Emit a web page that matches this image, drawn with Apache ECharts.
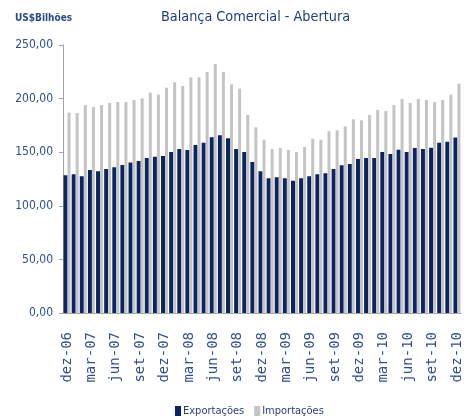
<!DOCTYPE html>
<html>
<head>
<meta charset="utf-8">
<script src="https://cdn.jsdelivr.net/npm/echarts@6/dist/echarts.min.js"></script>
<style>
  html, body { margin: 0; padding: 0; background: #fff; }
  #chart { width: 473px; height: 416px; }
</style>
</head>
<body>
<div id="chart"></div>
<script>
// meses (dez-06 .. dez-10)
var months = [
  'dez-06', 'jan-07', 'fev-07', 'mar-07', 'abr-07', 'mai-07', 'jun-07', 'jul-07', 'ago-07', 'set-07', 'out-07', 'nov-07',
  'dez-07', 'jan-08', 'fev-08', 'mar-08', 'abr-08', 'mai-08', 'jun-08', 'jul-08', 'ago-08', 'set-08', 'out-08', 'nov-08',
  'dez-08', 'jan-09', 'fev-09', 'mar-09', 'abr-09', 'mai-09', 'jun-09', 'jul-09', 'ago-09', 'set-09', 'out-09', 'nov-09',
  'dez-09', 'jan-10', 'fev-10', 'mar-10', 'abr-10', 'mai-10', 'jun-10', 'jul-10', 'ago-10', 'set-10', 'out-10', 'nov-10',
  'dez-10'
];

var exportacoes = [
  128.4, 129.4, 127.5, 133.4, 132.2, 134.3, 135.9, 138.1, 140.5, 141.8, 144.6, 145.8,
  146.5, 150.2, 153.0, 152.1, 156.7, 158.9, 163.9, 165.7, 162.9, 153.0, 150.2, 140.9,
  132.2, 125.6, 126.6, 125.6, 123.4, 125.6, 127.5, 129.4, 130.3, 134.3, 137.8, 139.0,
  143.7, 144.6, 144.6, 150.2, 148.3, 152.4, 150.2, 153.9, 153.0, 154.2, 158.9, 159.8,
  163.6
];

var importacoes = [
  186.9, 186.6, 194.0, 192.2, 194.0, 195.9, 196.8, 196.8, 198.7, 200.2, 205.5, 203.7,
  210.2, 215.2, 211.8, 219.8, 219.8, 224.8, 232.3, 224.8, 213.3, 209.3, 184.7, 173.2,
  161.7, 153.0, 153.9, 152.1, 150.2, 154.9, 162.6, 161.7, 169.5, 170.4, 174.1, 180.7,
  179.7, 184.7, 189.4, 188.4, 194.0, 199.6, 195.9, 199.6, 198.7, 196.8, 198.7, 203.7,
  213.9
];

var chart = echarts.init(document.getElementById('chart'));
var txtFont = '"DejaVu Sans Condensed", "DejaVu Sans", sans-serif';

var option = {
  animation: false,
  title: [{
    text: 'Balança Comercial - Abertura',
    left: 161,
    top: 10,
    padding: 0,
    textStyle: { color: '#1f3d7a', fontSize: 14.3, fontWeight: 'normal', fontFamily: txtFont }
  }, {
    text: 'US$Bilhões',
    left: 15,
    top: 13,
    padding: 0,
    textStyle: { color: '#2a4a85', fontSize: 10, fontWeight: 'bold', fontFamily: txtFont }
  }],
  legend: {
    bottom: -6,
    left: 170,
    itemWidth: 6,
    itemHeight: 11,
    itemGap: 10,
    icon: 'rect',
    textStyle: { color: '#2a3f6e', fontSize: 11, fontFamily: txtFont, padding: [0, 0, 0, -3] },
    data: ['Exportações', 'Importações']
  },
  grid: { left: 63, right: 12, top: 45, bottom: 103 },
  xAxis: {
    type: 'category',
    data: months,
    axisLine: { lineStyle: { color: '#a6a6a6', width: 1 } },
    axisTick: { interval: 2, length: 4, lineStyle: { color: '#a6a6a6' } },
    axisLabel: {
      interval: 2,
      rotate: 90,
      margin: 19,
      color: '#2f4f8f',
      fontSize: 14,
      fontFamily: '"DejaVu Sans Mono", monospace'
    }
  },
  yAxis: {
    type: 'value',
    min: 0,
    max: 250,
    interval: 50,
    splitLine: { show: false },
    axisLine: { show: true, lineStyle: { color: '#a6a6a6', width: 1 } },
    axisTick: { show: true, length: 4, lineStyle: { color: '#a6a6a6' } },
    axisLabel: {
      margin: 10,
      color: '#2f4f8f',
      fontSize: 12,
      fontFamily: txtFont,
      formatter: function (v) { return v.toFixed(2).replace('.', ','); }
    }
  },
  series: [{
    name: 'Exportações',
    type: 'bar',
    data: exportacoes,
    barWidth: 4,
    barGap: 0,
    itemStyle: { color: '#0c2461' }
  }, {
    name: 'Importações',
    type: 'bar',
    data: importacoes,
    barWidth: 3,
    barGap: 0,
    itemStyle: { color: '#c4c4c4' }
  }]
};

chart.setOption(option);
</script>
</body>
</html>
